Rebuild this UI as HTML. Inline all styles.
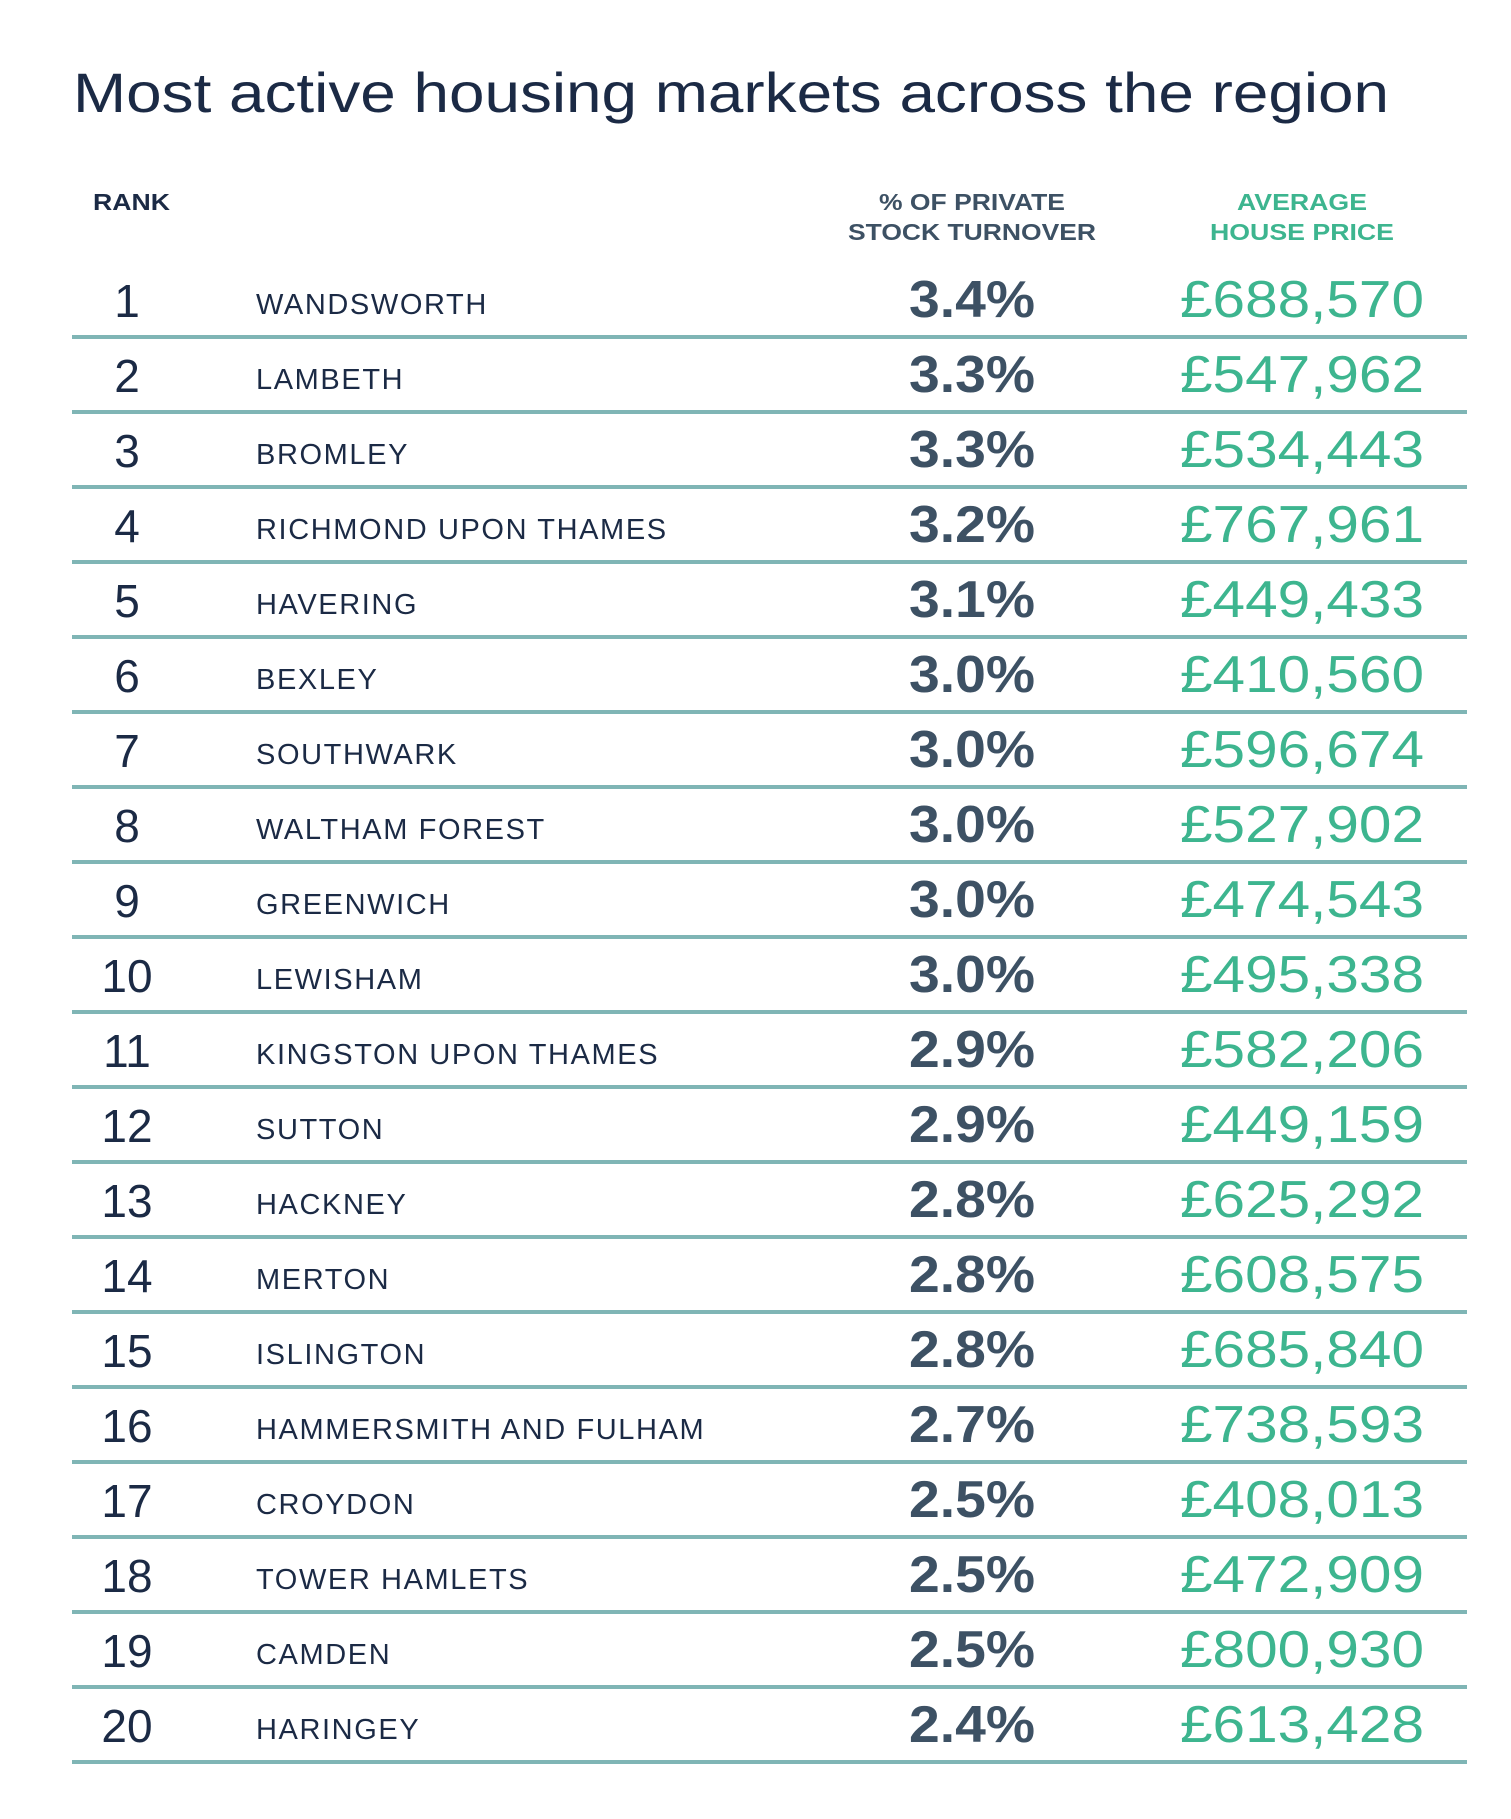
<!DOCTYPE html>
<html><head><meta charset="utf-8"><style>
html,body{margin:0;padding:0;background:#fff;}
svg{display:block;}
.t{font-family:"Liberation Sans",sans-serif;}
</style></head><body>
<svg width="1511" height="1819" xmlns="http://www.w3.org/2000/svg">
<text class="t" x="73" y="112" font-size="56" fill="#1b2a45" textLength="1316" lengthAdjust="spacingAndGlyphs">Most active housing markets across the region</text>
<g class="t" font-size="23" font-weight="bold">
<text x="93" y="210" fill="#1b2a45" textLength="77" lengthAdjust="spacingAndGlyphs">RANK</text>
<text x="972" y="210" fill="#3d5164" text-anchor="middle" textLength="186" lengthAdjust="spacingAndGlyphs">% OF PRIVATE</text>
<text x="972" y="240" fill="#3d5164" text-anchor="middle" textLength="248" lengthAdjust="spacingAndGlyphs">STOCK TURNOVER</text>
<text x="1302" y="210" fill="#3db58f" text-anchor="middle" textLength="130" lengthAdjust="spacingAndGlyphs">AVERAGE</text>
<text x="1302" y="240" fill="#3db58f" text-anchor="middle" textLength="184" lengthAdjust="spacingAndGlyphs">HOUSE PRICE</text>
</g>
<g id="rows"></g>
</svg>
<script>
var d=[["WANDSWORTH","3.4%","£688,570"],["LAMBETH","3.3%","£547,962"],["BROMLEY","3.3%","£534,443"],["RICHMOND UPON THAMES","3.2%","£767,961"],["HAVERING","3.1%","£449,433"],["BEXLEY","3.0%","£410,560"],["SOUTHWARK","3.0%","£596,674"],["WALTHAM FOREST","3.0%","£527,902"],["GREENWICH","3.0%","£474,543"],["LEWISHAM","3.0%","£495,338"],["KINGSTON UPON THAMES","2.9%","£582,206"],["SUTTON","2.9%","£449,159"],["HACKNEY","2.8%","£625,292"],["MERTON","2.8%","£608,575"],["ISLINGTON","2.8%","£685,840"],["HAMMERSMITH AND FULHAM","2.7%","£738,593"],["CROYDON","2.5%","£408,013"],["TOWER HAMLETS","2.5%","£472,909"],["CAMDEN","2.5%","£800,930"],["HARINGEY","2.4%","£613,428"]];
var s="";
for(var i=0;i<20;i++){var b=317+75*i,l=335+75*i;
s+='<text class="t" x="127" y="'+b+'" font-size="46" fill="#1b2a45" text-anchor="middle">'+(i+1)+'</text>';
s+='<text class="t" x="256" y="'+(b-3)+'" font-size="29" fill="#1b2a45" letter-spacing="1.6">'+d[i][0]+'</text>';
s+='<text class="t" x="972" y="'+b+'" font-size="52" font-weight="bold" fill="#3d5164" text-anchor="middle" textLength="126" lengthAdjust="spacingAndGlyphs">'+d[i][1]+'</text>';
s+='<text class="t" x="1302" y="'+b+'" font-size="52" fill="#3db58f" text-anchor="middle" textLength="244" lengthAdjust="spacingAndGlyphs">'+d[i][2]+'</text>';
s+='<rect x="72" y="'+l+'" width="1395" height="4" fill="#7fb5b5"/>';}
document.getElementById("rows").innerHTML=s;
</script>
</body></html>
